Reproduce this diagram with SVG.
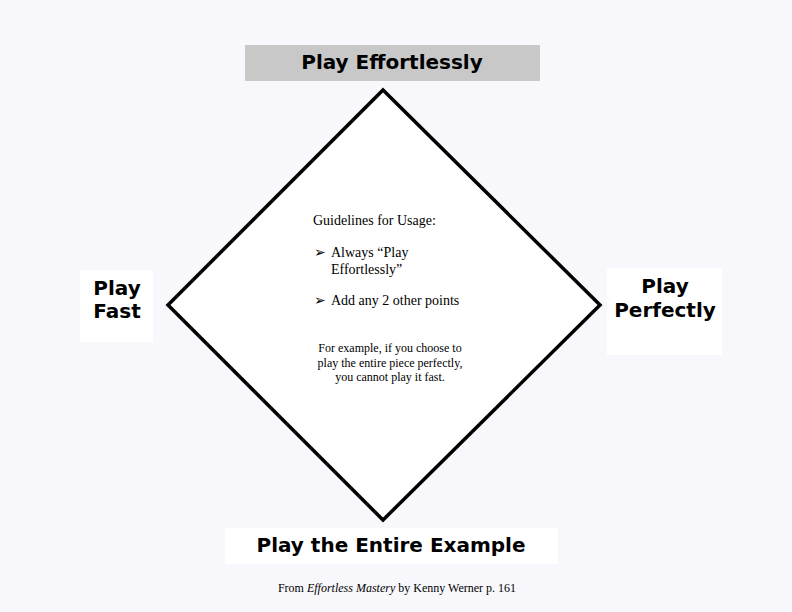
<svg xmlns="http://www.w3.org/2000/svg" width="792" height="612" viewBox="0 0 792 612">
<style>
.lbl{font-family:"DejaVu Sans",Verdana,sans-serif;font-weight:bold;font-size:20px;fill:#000;text-anchor:middle}
.t{font-family:"Liberation Serif","Times New Roman",serif;font-size:14px;fill:#000}
.s{font-family:"Liberation Serif","Times New Roman",serif;font-size:12px;fill:#000;text-anchor:middle}
.box{fill:#fff}
</style>
<rect width="792" height="612" fill="#f8f8fc"/>
<g id="connectors">
<path d="M383,90 L600,305 L383,520 L168,305 Z" fill="#fff" stroke="#000" stroke-width="3.5" stroke-linejoin="miter"/>
</g>
<g id="node-top">
<rect x="245" y="45" width="295" height="36" fill="#c8c8c8"/>
<text class="lbl" x="392" y="69">Play Effortlessly</text>
</g>
<g id="node-left">
<rect class="box" x="80" y="270" width="73" height="72"/>
<text class="lbl" x="117" y="295">Play</text>
<text class="lbl" x="117" y="318">Fast</text>
</g>
<g id="node-right">
<rect class="box" x="607" y="268" width="115" height="87"/>
<text class="lbl" x="665" y="293">Play</text>
<text class="lbl" x="665" y="317">Perfectly</text>
</g>
<g id="node-bottom">
<rect class="box" x="225" y="528" width="333" height="36"/>
<text class="lbl" x="391" y="552">Play the Entire Example</text>
</g>
<g id="guidelines">
<text class="t" x="313" y="225">Guidelines for Usage:</text>
<text class="t" x="314" y="257">➢</text>
<text class="t" x="331" y="257">Always “Play</text>
<text class="t" x="331" y="274">Effortlessly”</text>
<text class="t" x="314" y="305">➢</text>
<text class="t" x="331" y="305">Add any 2 other points</text>
<text class="s" x="390" y="352">For example, if you choose to</text>
<text class="s" x="390" y="367">play the entire piece perfectly,</text>
<text class="s" x="390" y="381">you cannot play it fast.</text>
</g>
<text class="s" x="397" y="592">From <tspan font-style="italic">Effortless Mastery</tspan> by Kenny Werner p. 161</text>
</svg>
